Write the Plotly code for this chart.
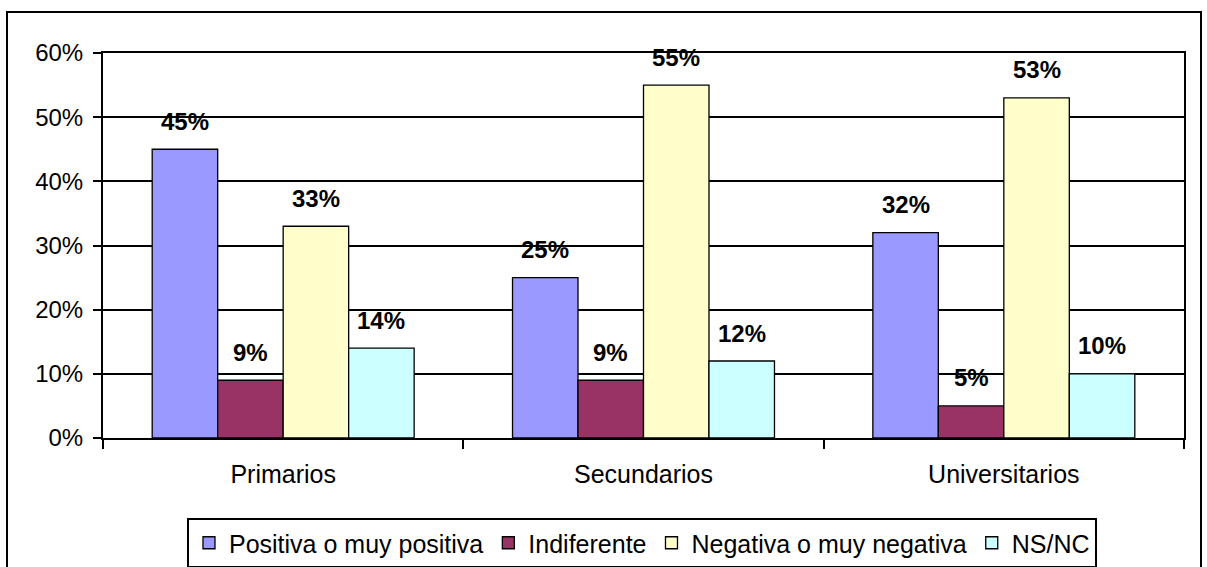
import plotly.graph_objects as go

# Nivel de estudios y valoración
categorias = ["Primarios", "Secundarios", "Universitarios"]
series = ["Positiva o muy positiva", "Indiferente", "Negativa o muy negativa", "NS/NC"]
positiva = [0.45, 0.25, 0.32]
indiferente = [0.09, 0.09, 0.05]
negativa = [0.33, 0.55, 0.53]
nsnc = [0.14, 0.12, 0.10]
valores = [positiva, indiferente, negativa, nsnc]
colores = ["#9999FF", "#993366", "#FFFFCC", "#CCFFFF"]
y_ticks = [0, 0.1, 0.2, 0.3, 0.4, 0.5, 0.6]

FONT = "Liberation Sans, Arial, sans-serif"
W, H = 1207, 567
ML, MR, MT, MB = 103, 23, 53, 129
BARGAP = 0.273

fig = go.Figure()
for nombre, vals, color in zip(series, valores, colores):
    fig.add_trace(go.Bar(
        x=categorias, y=vals, name=nombre,
        marker=dict(color=color, line=dict(color="black", width=1.3)),
        hoverinfo="skip",
    ))

# Etiquetas de datos sobre cada barra
plot_w = W - ML - MR
plot_h = H - MT - MB
bar_w = plot_w / len(categorias) * (1 - BARGAP) / len(series)
for j, vals in enumerate(valores):
    for cat, v in zip(categorias, vals):
        fig.add_annotation(
            x=cat, y=v, xref="x", yref="y",
            xshift=(j - (len(series) - 1) / 2) * bar_w, yshift=28,
            text=f"<b>{round(v * 100)}%</b>", showarrow=False,
            yanchor="middle", xanchor="center",
            font=dict(family=FONT, size=24, color="black"),
        )

# Marco exterior del gráfico
fig.add_shape(
    type="rect", xref="paper", yref="paper",
    x0=(7 - ML) / plot_w, x1=(1201 - ML) / plot_w,
    y0=-0.6, y1=(H - MB - 12) / plot_h,
    line=dict(color="black", width=2), fillcolor="rgba(0,0,0,0)", layer="below",
)

fig.update_layout(
    width=W, height=H,
    margin=dict(l=ML, r=MR, t=MT, b=MB, autoexpand=False),
    paper_bgcolor="white", plot_bgcolor="white",
    barmode="group", bargap=BARGAP, bargroupgap=0,
    font=dict(family=FONT, color="black"),
    showlegend=True,
    legend=dict(
        orientation="h", x=0.4986, xanchor="center",
        y=(H - MB - 518) / plot_h, yanchor="top",
        bordercolor="black", borderwidth=2, bgcolor="white",
        font=dict(family=FONT, size=25, color="black"),
        itemclick=False, traceorder="normal",
    ),
    xaxis=dict(
        type="category", tickson="boundaries", ticks="outside", ticklen=9,
        tickwidth=2, tickcolor="black", showline=True, linecolor="black",
        linewidth=2, mirror=True, showgrid=False,
        tickfont=dict(family=FONT, size=25, color="black"),
        ticklabelstandoff=13,
    ),
    yaxis=dict(
        range=[0, 0.6], tickvals=y_ticks, tickformat=".0%",
        ticks="outside", ticklen=8, tickwidth=2, tickcolor="black",
        showline=True, linecolor="black", linewidth=2, mirror=True,
        showgrid=True, gridcolor="black", gridwidth=2, zeroline=False,
        tickfont=dict(family=FONT, size=24, color="black"),
        ticklabelstandoff=5,
    ),
)

fig.write_html("out.html")
